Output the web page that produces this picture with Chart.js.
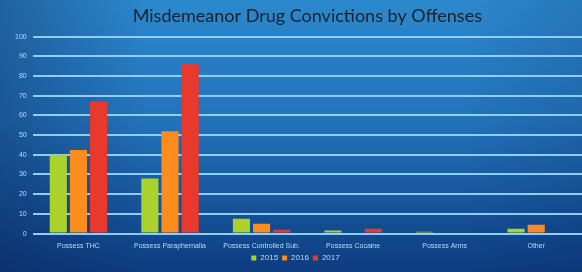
<!DOCTYPE html>
<html>
<head>
<meta charset="utf-8">
<script src="https://cdn.jsdelivr.net/npm/chart.js@4"></script>
<style>
  html, body { margin: 0; padding: 0; background: #1560a8; }
  #wrap { width: 582px; height: 272px; }
</style>
</head>
<body>
<div id="wrap"><canvas id="chartId" width="582" height="272"></canvas></div>
<script>
var categories = ["Possess THC", "Possess Paraphernalia", "Possess Controlled Sub.", "Possess Cocaine", "Possess Arms", "Other"];
var years = ["2015", "2016", "2017"];
var values2015 = [40, 28, 7.5, 1.6, 1, 2.5];
var values2016 = [42.5, 52, 5, 0, 0, 4.5];
var values2017 = [67, 86, 2, 2.5, 0.5, 0.5];
var yTicks = [0, 10, 20, 30, 40, 50, 60, 70, 80, 90, 100];

// blue slide background
var bgPlugin = {
  id: 'bg',
  beforeDraw: function (chart) {
    var ctx = chart.ctx;
    var w = chart.width, h = chart.height;
    var g = ctx.createLinearGradient(0, 0, 0, h);
    g.addColorStop(0, '#2c88cc');
    g.addColorStop(0.45, '#2272ba');
    g.addColorStop(1, '#0d3b80');
    ctx.save();
    ctx.fillStyle = g;
    ctx.fillRect(0, 0, w, h);
    var r = ctx.createLinearGradient(0, 0, w, 0);
    r.addColorStop(0, 'rgba(8,30,80,0.35)');
    r.addColorStop(0.25, 'rgba(8,30,80,0)');
    r.addColorStop(0.8, 'rgba(8,30,80,0)');
    r.addColorStop(1, 'rgba(8,30,80,0.15)');
    ctx.fillStyle = r;
    ctx.fillRect(0, 0, w, h);
    ctx.restore();
  }
};

new Chart(document.getElementById("chartId").getContext("2d"), {
  type: 'bar',
  data: {
    labels: categories,
    datasets: [
      { label: years[0], data: values2015, backgroundColor: '#a9d22c' },
      { label: years[1], data: values2016, backgroundColor: '#fb8c1e' },
      { label: years[2], data: values2017, backgroundColor: '#e8392c' }
    ]
  },
  options: {
    responsive: false,
    animation: false,
    categoryPercentage: 0.66,
    barPercentage: 0.85,
    layout: {
      padding: { left: 9, right: 0, top: 3, bottom: 0 }
    },
    plugins: {
      tooltip: { enabled: false },
      title: {
        display: true,
        fullSize: false,
        text: 'Misdemeanor Drug Convictions by Offenses',
        color: '#17222e',
        font: { family: 'Lato', size: 18, weight: 'normal' },
        padding: { top: 2, bottom: 10 }
      },
      legend: {
        position: 'bottom',
        labels: {
          color: '#b8dcf5',
          font: { family: 'Liberation Sans', size: 8 },
          boxWidth: 5,
          boxHeight: 5,
          padding: 4
        }
      }
    },
    scales: {
      x: {
        grid: { display: false },
        border: { display: false },
        ticks: {
          color: '#b8dcf5',
          font: { family: 'Liberation Sans', size: 7 },
          maxRotation: 0,
          autoSkip: false,
          padding: 0
        }
      },
      y: {
        min: 0,
        max: 100,
        afterBuildTicks: function (axis) {
          axis.ticks = yTicks.map(function (v) { return { value: v }; });
        },
        grid: {
          color: '#8fcdf3',
          lineWidth: 2,
          drawTicks: false
        },
        border: { display: false },
        ticks: {
          color: '#b8dcf5',
          font: { family: 'Liberation Sans', size: 7 },
          padding: 6
        }
      }
    }
  },
  plugins: [bgPlugin]
});
</script>
</body>
</html>
